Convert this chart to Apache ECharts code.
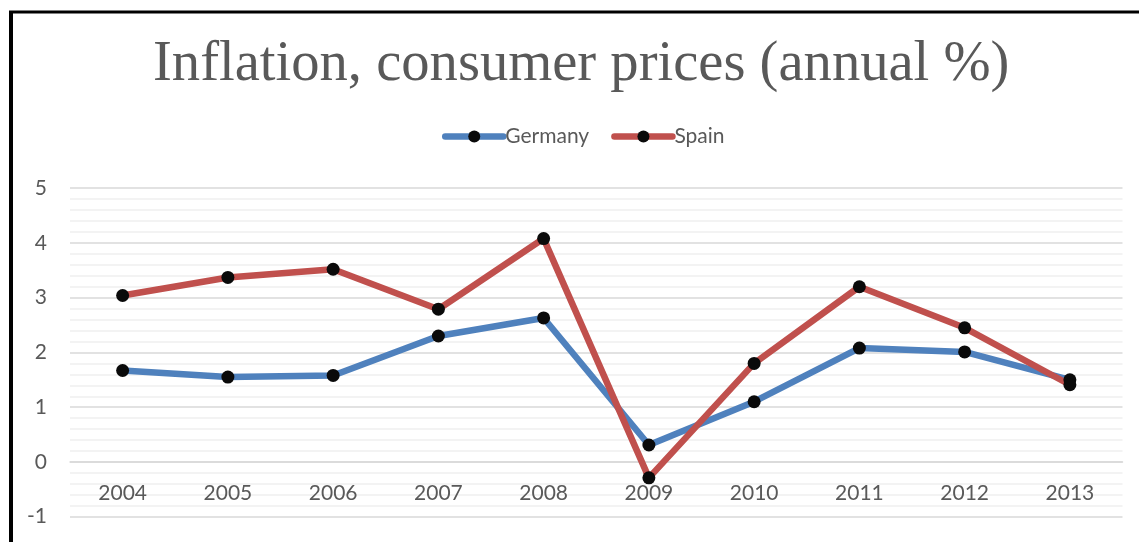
<!DOCTYPE html>
<html><head><meta charset="utf-8">
<script src="https://cdn.jsdelivr.net/npm/echarts@6/dist/echarts.min.js"></script>
<style>html,body{margin:0;padding:0;background:#fff}#c{width:1139px;height:542px}</style>
</head><body><div id="c"></div>
<script>
var years = ['2004','2005','2006','2007','2008','2009','2010','2011','2012','2013'];
var germany = [1.67, 1.55, 1.58, 2.30, 2.63, 0.31, 1.10, 2.08, 2.01, 1.50];
var spain = [3.04, 3.37, 3.52, 2.79, 4.08, -0.29, 1.80, 3.20, 2.45, 1.41];
var yTicks = [-1, 0, 1, 2, 3, 4, 5];

var chart = echarts.init(document.getElementById('c'));
var txt = '#595959';
function mk(name, data, color) {
  return {
    name: name, type: 'line', data: data,
    symbol: 'circle', symbolSize: 13,
    itemStyle: { color: '#0a0a0a' },
    lineStyle: { color: color, width: 6.5 },
    z: 3
  };
}
var gridBottom = 25.3;
var gridTop = 188.2;
var plotH = 542 - gridBottom - gridTop;
var zeroOffset = -plotH * (0 - yTicks[0]) / (yTicks[yTicks.length - 1] - yTicks[0]);
chart.setOption({
  animation: false,
  title: {
    text: 'Inflation, consumer prices (annual %)',
    left: 148, top: 32,
    textStyle: { fontFamily: 'Liberation Serif', fontSize: 56.6, fontWeight: 'normal', color: txt }
  },
  legend: {
    top: 121, left: 437,
    itemWidth: 58, itemHeight: 15, itemGap: 22,
    lineStyle: { width: 6.5, cap: 'round' },
    textStyle: { fontFamily: 'Lato', fontSize: 21, color: txt, padding: [0,0,0,-3] },
    data: ['Germany', 'Spain']
  },
  grid: { left: 70, right: 16.5, top: gridTop, bottom: gridBottom, containLabel: false, outerBoundsMode: 'none' },
  xAxis: {
    type: 'category', data: years, boundaryGap: true, position: 'bottom',
    offset: zeroOffset,
    axisLine: { show: true, onZero: false, lineStyle: { color: '#D9D9D9', width: 1.5 } },
    axisTick: { show: false },
    axisLabel: { margin: 21, fontFamily: 'Lato', fontSize: 21, color: txt },
    splitLine: { show: false }
  },
  yAxis: {
    type: 'value', min: yTicks[0], max: yTicks[yTicks.length - 1], interval: 1,
    axisLine: { show: false }, axisTick: { show: false },
    axisLabel: { margin: 23, fontFamily: 'Lato', fontSize: 21, color: txt,
      formatter: function (v) { return yTicks.indexOf(v) >= 0 ? String(v) : ''; } },
    splitLine: { show: true, lineStyle: { color: '#D9D9D9', width: 1.5 } },
    minorTick: { show: false, splitNumber: 5 },
    minorSplitLine: { show: true, lineStyle: { color: '#F0F0F0', width: 1.5 } }
  },
  graphic: [
    { type: 'line', shape: { x1: 9, y1: 12, x2: 1139, y2: 12 }, style: { stroke: '#000', lineWidth: 3 }, z: 100 },
    { type: 'line', shape: { x1: 11, y1: 11, x2: 11, y2: 542 }, style: { stroke: '#000', lineWidth: 4 }, z: 100 }
  ],
  series: [mk('Germany', germany, '#4F81BD'), mk('Spain', spain, '#C0504D')]
});
</script></body></html>
